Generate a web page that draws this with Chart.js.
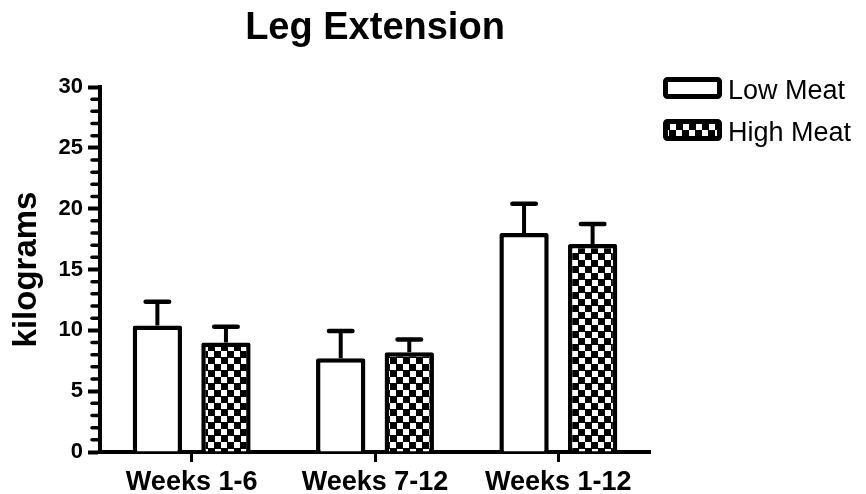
<!DOCTYPE html>
<html>
<head>
<meta charset="utf-8">
<script src="https://cdn.jsdelivr.net/npm/chart.js@4/dist/chart.umd.min.js"></script>
<style>
  html, body { margin: 0; padding: 0; background: #fff; }
  #wrap { width: 866px; height: 494px; }
</style>
</head>
<body>
<div id="wrap"><canvas id="c" width="866" height="494"></canvas></div>
<script>
// Leg extension strength (kg), mean with upward error bar
const categories = ['Weeks 1-6', 'Weeks 7-12', 'Weeks 1-12'];
const seriesNames = ['Low Meat', 'High Meat'];
const lowMeat = [10.4, 7.7, 18.0];
const lowMeatErr = [1.95, 2.25, 2.4];
const highMeat = [9.0, 8.2, 17.1];
const highMeatErr = [1.3, 1.05, 1.65];
const yMin = 0, yMax = 30, yMajorStep = 5, yMinorStep = 1;

const FONT = "'Liberation Sans', Arial, Helvetica, sans-serif";
Chart.defaults.font.family = FONT;
Chart.defaults.color = '#000';

// black/white checkerboard fill
function makeChecker() {
  const t = document.createElement('canvas');
  t.width = 13; t.height = 13;
  const g = t.getContext('2d');
  g.fillStyle = '#000'; g.fillRect(0, 0, 13, 13);
  g.fillStyle = '#fff';
  g.fillRect(0, 0, 6, 6);
  g.fillRect(7, 7, 6, 6);
  return g.createPattern(t, 'repeat');
}
const ctx = document.getElementById('c').getContext('2d');
const checker = makeChecker();

// upward error bars with caps
const errorBars = {
  id: 'errorBars',
  afterDatasetsDraw(chart) {
    const c = chart.ctx, y = chart.scales.y;
    c.save();
    c.strokeStyle = '#000';
    chart.data.datasets.forEach((ds, di) => {
      const meta = chart.getDatasetMeta(di);
      meta.data.forEach((bar, i) => {
        const top = y.getPixelForValue(ds.data[i] + ds.errors[i]);
        c.lineWidth = 4; c.lineCap = 'butt';
        c.beginPath(); c.moveTo(bar.x, bar.y); c.lineTo(bar.x, top); c.stroke();
        c.lineWidth = 4.5; c.lineCap = 'round';
        c.beginPath(); c.moveTo(bar.x - 11.75, top); c.lineTo(bar.x + 11.75, top); c.stroke();
      });
    });
    c.restore();
  }
};

// minor ticks on the value axis
const minorTicks = {
  id: 'minorTicks',
  afterDraw(chart) {
    const c = chart.ctx, y = chart.scales.y, x0 = chart.chartArea.left;
    c.save();
    c.strokeStyle = '#000'; c.lineWidth = 3.5; c.lineCap = 'round';
    for (let v = yMin; v <= yMax; v += yMinorStep) {
      if (v % yMajorStep === 0) continue;
      const py = y.getPixelForValue(v);
      c.beginPath(); c.moveTo(x0 - 8, py); c.lineTo(x0, py); c.stroke();
    }
    c.restore();
  }
};

// legend boxes at the top right
const boxLegend = {
  id: 'boxLegend',
  afterDraw(chart) {
    const c = chart.ctx;
    const bx = 663, bw = 59, bh = 22, tx = 728;
    const rows = [88, 130];
    c.save();
    chart.data.datasets.forEach((ds, i) => {
      const cy = rows[i];
      const top = cy - bh / 2;
      c.fillStyle = ds.backgroundColor;
      c.fillRect(bx + 2, top + 2, bw - 4, bh - 4);
      c.strokeStyle = '#000'; c.lineWidth = 5; c.lineJoin = 'round';
      c.beginPath();
      if (c.roundRect) c.roundRect(bx + 2.5, top + 2.5, bw - 5, bh - 5, 2);
      else c.rect(bx + 2.5, top + 2.5, bw - 5, bh - 5);
      c.stroke();
      c.fillStyle = '#000';
      c.font = '27px ' + FONT;
      c.textBaseline = 'alphabetic'; c.textAlign = 'left';
      c.fillText(ds.label, tx, cy + 11);
    });
    c.restore();
  }
};

const barStyle = {
  borderColor: '#000',
  borderWidth: 4.5,
  borderSkipped: 'start',
  borderRadius: 2,
  categoryPercentage: 0.748,
  barPercentage: 0.72
};

new Chart(ctx, {
  type: 'bar',
  data: {
    labels: categories,
    datasets: [
      Object.assign({ label: seriesNames[0], data: lowMeat, errors: lowMeatErr, backgroundColor: '#fff' }, barStyle),
      Object.assign({ label: seriesNames[1], data: highMeat, errors: highMeatErr, backgroundColor: checker }, barStyle)
    ]
  },
  options: {
    responsive: false,
    animation: false,
    devicePixelRatio: 1,
    layout: { padding: { left: 0, right: 216, top: 0, bottom: 0 } },
    plugins: {
      legend: { display: false },
      tooltip: { enabled: false },
      title: {
        display: true,
        text: 'Leg Extension',
        color: '#000',
        fullSize: false,
        font: { size: 38, weight: 'bold', family: FONT },
        padding: { top: 6, bottom: 35.4 }
      }
    },
    scales: {
      x: {
        type: 'category',
        offset: true,
        grid: { offset: false, drawOnChartArea: false, tickLength: 10, tickWidth: 3, tickColor: '#000' },
        border: { color: '#000', width: 4 },
        ticks: { font: { size: 27, weight: 'bold' }, color: '#000', padding: 4, maxRotation: 0 },
        afterFit(s) { s.height = 42; }
      },
      y: {
        type: 'linear',
        min: yMin,
        max: yMax,
        ticks: { stepSize: yMajorStep, font: { size: 22, weight: 'bold' }, color: '#000', padding: 5 },
        grid: { drawOnChartArea: false, tickLength: 12, tickWidth: 4, tickColor: '#000' },
        border: { color: '#000', width: 4 },
        title: {
          display: true,
          text: 'kilograms',
          color: '#000',
          font: { size: 33, weight: 'bold' },
          padding: { top: 7, bottom: 0 }
        },
        afterFit(s) { s.width = 100; }
      }
    }
  },
  plugins: [errorBars, minorTicks, boxLegend]
});
</script>
</body>
</html>
